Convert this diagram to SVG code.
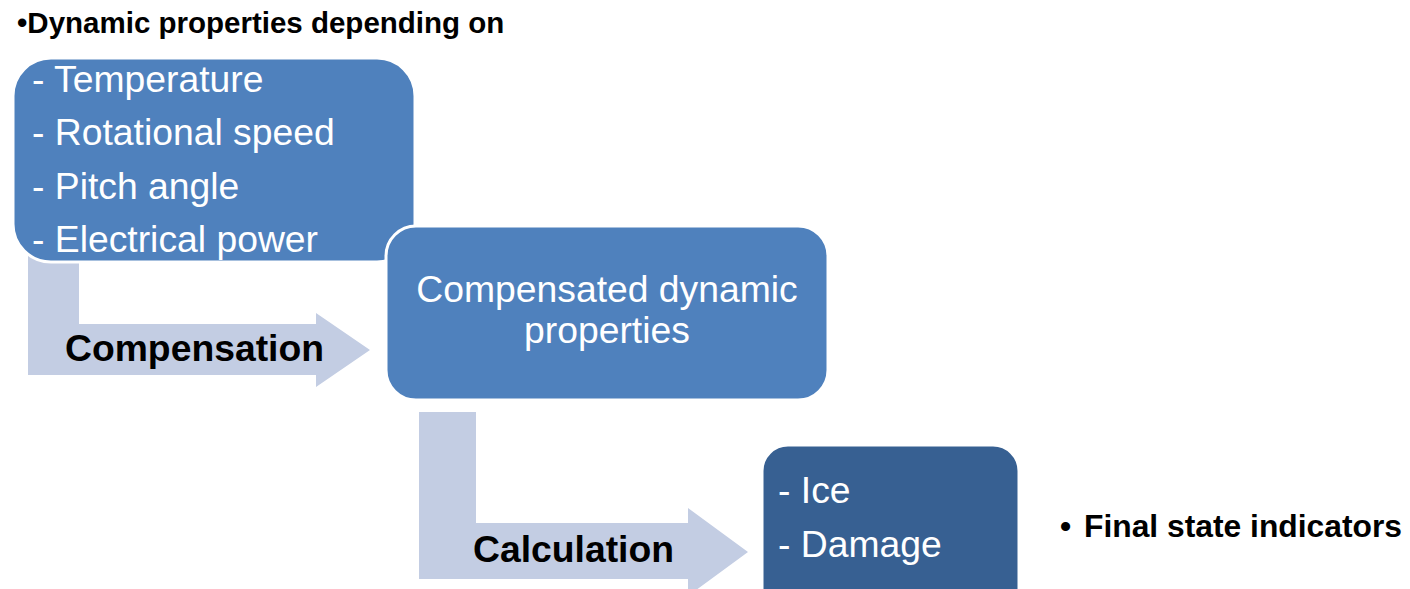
<svg xmlns="http://www.w3.org/2000/svg" width="1410" height="589" viewBox="0 0 1410 589">
<style>
.box{fill:#4F81BD;stroke:#FFFFFF;stroke-width:3}
.dark{fill:#376092;stroke:#FFFFFF;stroke-width:3}
.arrow{fill:#C3CDE3;stroke:none}
.wt{font-family:"Liberation Sans",Arial,sans-serif;font-size:37.3px;fill:#FFFFFF}
.lbl{font-family:"Liberation Sans",Arial,sans-serif;font-size:37.3px;font-weight:bold;fill:#000000}
.hd{font-family:"Liberation Sans",Arial,sans-serif;font-size:29.5px;font-weight:bold;fill:#000000}
.fs{font-family:"Liberation Sans",Arial,sans-serif;font-size:31.8px;font-weight:bold;fill:#000000}
</style>
<rect width="1410" height="589" fill="#FFFFFF"/>
<g id="connectors">
<path class="arrow" d="M28,250 L79,250 L79,324 L316,324 L316,313 L370,350 L316,387 L316,375 L28,375 Z"/>
<path class="arrow" d="M419,412 L476,412 L476,523 L688,523 L688,508 L748,552 L688,596 L688,579 L419,579 Z"/>
</g>
<g id="title">
<text class="hd" x="17" y="33">•Dynamic properties depending on</text>
</g>
<g id="node-inputs">
<rect class="box" x="13" y="58" width="402" height="204" rx="38" ry="38"/>
<text class="wt" x="32" y="92">- Temperature</text>
<text class="wt" x="32" y="145">- Rotational speed</text>
<text class="wt" x="32" y="199">- Pitch angle</text>
<text class="wt" x="32" y="252">- Electrical power</text>
</g>
<g id="node-compensated">
<rect class="box" x="386" y="226" width="442" height="174" rx="30" ry="30"/>
<text class="wt" x="607" y="302" text-anchor="middle">Compensated dynamic</text>
<text class="wt" x="607" y="343" text-anchor="middle">properties</text>
</g>
<g id="label-compensation">
<text class="lbl" x="194.5" y="361" text-anchor="middle">Compensation</text>
</g>
<g id="label-calculation">
<text class="lbl" x="573.5" y="562" text-anchor="middle">Calculation</text>
</g>
<g id="node-final">
<rect class="dark" x="762" y="445" width="257" height="180" rx="26" ry="26"/>
<text class="wt" x="778" y="503">- Ice</text>
<text class="wt" x="778" y="557">- Damage</text>
</g>
<g id="label-final">
<text class="fs" x="1060" y="537">•</text>
<text class="fs" x="1084" y="537">Final state indicators</text>
</g>
</svg>
